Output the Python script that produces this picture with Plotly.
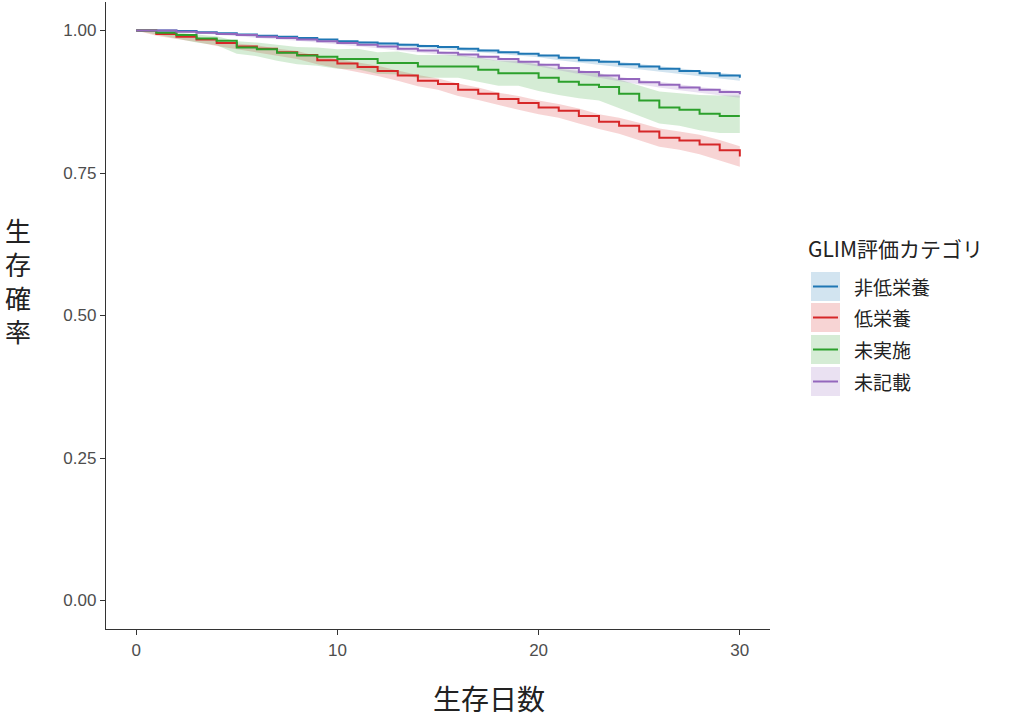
import plotly.graph_objects as go

# 生存日数 (0〜30日)
days = list(range(31))

groups = ['非低栄養', '低栄養', '未実施', '未記載']
colors = ['#1f77b4', '#d62728', '#2ca02c', '#9467bd']
fills = ['rgba(31,119,180,0.2)', 'rgba(214,39,40,0.2)', 'rgba(44,160,44,0.2)', 'rgba(148,103,189,0.2)']

# 非低栄養
surv_normal = [1.000, 1.000, 0.999, 0.997, 0.995, 0.993, 0.991, 0.989, 0.987, 0.984, 0.981,
               0.979, 0.977, 0.975, 0.973, 0.971, 0.968, 0.965, 0.962, 0.959, 0.956,
               0.952, 0.948, 0.945, 0.941, 0.937, 0.933, 0.929, 0.925, 0.921, 0.917]
lo_normal = [1.000, 0.999, 0.998, 0.996, 0.994, 0.991, 0.989, 0.987, 0.985, 0.982, 0.979,
             0.976, 0.974, 0.972, 0.970, 0.968, 0.965, 0.962, 0.959, 0.956, 0.953,
             0.948, 0.944, 0.941, 0.937, 0.933, 0.929, 0.925, 0.921, 0.916, 0.912]
hi_normal = [1.000, 1.000, 1.000, 0.998, 0.996, 0.995, 0.993, 0.991, 0.989, 0.986, 0.983,
             0.982, 0.980, 0.978, 0.976, 0.974, 0.971, 0.968, 0.965, 0.962, 0.959,
             0.956, 0.952, 0.949, 0.945, 0.941, 0.937, 0.933, 0.929, 0.925, 0.922]

# 低栄養
surv_mal = [1.000, 0.994, 0.989, 0.984, 0.978, 0.972, 0.968, 0.962, 0.957, 0.948, 0.942,
            0.936, 0.929, 0.921, 0.912, 0.906, 0.896, 0.889, 0.880, 0.873, 0.865,
            0.859, 0.850, 0.840, 0.833, 0.823, 0.812, 0.807, 0.800, 0.790, 0.779]
lo_mal = [1.000, 0.991, 0.985, 0.980, 0.973, 0.967, 0.962, 0.956, 0.950, 0.941, 0.934,
          0.928, 0.920, 0.912, 0.902, 0.896, 0.885, 0.878, 0.869, 0.861, 0.853,
          0.847, 0.837, 0.827, 0.819, 0.808, 0.796, 0.791, 0.783, 0.772, 0.761]
hi_mal = [1.000, 0.997, 0.993, 0.988, 0.983, 0.977, 0.974, 0.968, 0.964, 0.955, 0.950,
          0.944, 0.938, 0.930, 0.922, 0.916, 0.907, 0.900, 0.891, 0.885, 0.877,
          0.871, 0.863, 0.853, 0.847, 0.838, 0.828, 0.823, 0.817, 0.808, 0.797]

# 未実施
surv_none = [1.000, 0.996, 0.992, 0.986, 0.982, 0.970, 0.967, 0.961, 0.956, 0.954, 0.950,
             0.950, 0.943, 0.943, 0.937, 0.937, 0.937, 0.931, 0.925, 0.925, 0.917,
             0.910, 0.905, 0.901, 0.889, 0.877, 0.865, 0.861, 0.854, 0.850, 0.850]
lo_none = [1.000, 0.993, 0.987, 0.979, 0.974, 0.959, 0.955, 0.947, 0.941, 0.938, 0.933,
           0.932, 0.924, 0.923, 0.917, 0.917, 0.917, 0.910, 0.903, 0.903, 0.894,
           0.887, 0.881, 0.877, 0.864, 0.850, 0.837, 0.833, 0.825, 0.820, 0.820]
hi_none = [1.000, 0.999, 0.997, 0.993, 0.990, 0.981, 0.979, 0.975, 0.971, 0.970, 0.967,
           0.968, 0.962, 0.963, 0.957, 0.957, 0.957, 0.952, 0.947, 0.947, 0.940,
           0.933, 0.929, 0.925, 0.914, 0.904, 0.893, 0.890, 0.887, 0.886, 0.886]

# 未記載
surv_na = [1.000, 1.000, 0.998, 0.996, 0.994, 0.992, 0.989, 0.987, 0.984, 0.981, 0.978,
           0.975, 0.972, 0.968, 0.965, 0.961, 0.958, 0.954, 0.950, 0.945, 0.940,
           0.934, 0.927, 0.921, 0.915, 0.909, 0.905, 0.900, 0.896, 0.892, 0.888]
lo_na = [1.000, 0.999, 0.997, 0.995, 0.993, 0.990, 0.987, 0.985, 0.982, 0.979, 0.976,
         0.972, 0.969, 0.965, 0.962, 0.958, 0.955, 0.951, 0.947, 0.942, 0.937,
         0.930, 0.923, 0.917, 0.911, 0.905, 0.900, 0.895, 0.891, 0.886, 0.882]
hi_na = [1.000, 1.000, 0.999, 0.997, 0.995, 0.994, 0.991, 0.989, 0.986, 0.983, 0.980,
         0.978, 0.975, 0.971, 0.968, 0.964, 0.961, 0.957, 0.953, 0.948, 0.943,
         0.938, 0.931, 0.925, 0.919, 0.913, 0.910, 0.905, 0.901, 0.897, 0.894]

surv = [surv_normal, surv_mal, surv_none, surv_na]
lower = [lo_normal, lo_mal, lo_none, lo_na]
upper = [hi_normal, hi_mal, hi_none, hi_na]

yticks = [0, 0.25, 0.5, 0.75, 1.0]
xticks = [0, 10, 20, 30]

CJK = 'Noto Sans CJK JP'

# 描画領域 (ピクセル) -> paper座標
L, R, T, B = 106, 770, 2, 629
def px(x):
    return (x - L) / (R - L)
def py(y):
    return (B - y) / (B - T)

fig = go.Figure()

# 信頼区間のリボン
for i, g in enumerate(groups):
    fig.add_trace(go.Scatter(x=days, y=lower[i], mode='lines', line=dict(width=0),
                             hoverinfo='skip', showlegend=False))
    fig.add_trace(go.Scatter(x=days, y=upper[i], mode='lines', line=dict(width=0),
                             fill='tonexty', fillcolor=fills[i],
                             hoverinfo='skip', showlegend=False))

# 生存曲線 (階段)
for i, g in enumerate(groups):
    fig.add_trace(go.Scatter(x=days, y=surv[i], mode='lines', name=g,
                             line=dict(color=colors[i], width=2, shape='hv'),
                             showlegend=False))

axis_common = dict(showline=True, linecolor='#333333', linewidth=1.4,
                   ticks='outside', ticklen=5, tickcolor='#333333', tickwidth=1.2,
                   showgrid=False, zeroline=False,
                   tickfont=dict(family='Liberation Sans', size=17, color='#4d4d4d'))

fig.update_xaxes(range=[-1.5, 31.5], tickvals=xticks, **axis_common)
fig.update_yaxes(range=[-0.05, 1.05], tickvals=yticks, tickformat='.2f', **axis_common)

annotations = [
    dict(text='生存日数', x=px(489), y=py(698), xref='paper', yref='paper',
         xanchor='center', yanchor='middle',
         showarrow=False, font=dict(family=CJK, size=28, color='#222222')),
    dict(text='生<br>存<br>確<br>率', x=px(18), y=py(280), xref='paper', yref='paper',
         xanchor='center', yanchor='middle',
         showarrow=False, font=dict(family=CJK, size=26, color='#222222')),
    dict(text='GLIM評価カテゴリ', x=px(806), y=py(248), xref='paper', yref='paper',
         xanchor='left', yanchor='middle',
         showarrow=False, font=dict(family=CJK, size=21, color='#222222')),
]

# 凡例 (ggplot風のキー)
shapes = []
key_top = [272, 303, 335, 367]
for i, g in enumerate(groups):
    y0 = key_top[i]
    shapes.append(dict(type='rect', xref='paper', yref='paper',
                       x0=px(811), x1=px(840), y0=py(y0 + 29), y1=py(y0),
                       fillcolor=fills[i], line=dict(width=0)))
    shapes.append(dict(type='line', xref='paper', yref='paper',
                       x0=px(813), x1=px(838), y0=py(y0 + 14.5), y1=py(y0 + 14.5),
                       line=dict(color=colors[i], width=2)))
    annotations.append(dict(text=g, x=px(852), y=py(y0 + 14.5), xref='paper', yref='paper',
                            xanchor='left', yanchor='middle', showarrow=False,
                            font=dict(family=CJK, size=19, color='#222222')))

fig.update_layout(width=1022, height=720,
                  margin=dict(l=L, r=1022 - R, t=T, b=720 - B),
                  plot_bgcolor='white', paper_bgcolor='white',
                  showlegend=False, annotations=annotations, shapes=shapes)

# ページ余白をなくして 1022x720 にぴったり合わせる
fig.write_html("out.html", config={'displayModeBar': False},
               post_script="document.body.style.margin='0';")
